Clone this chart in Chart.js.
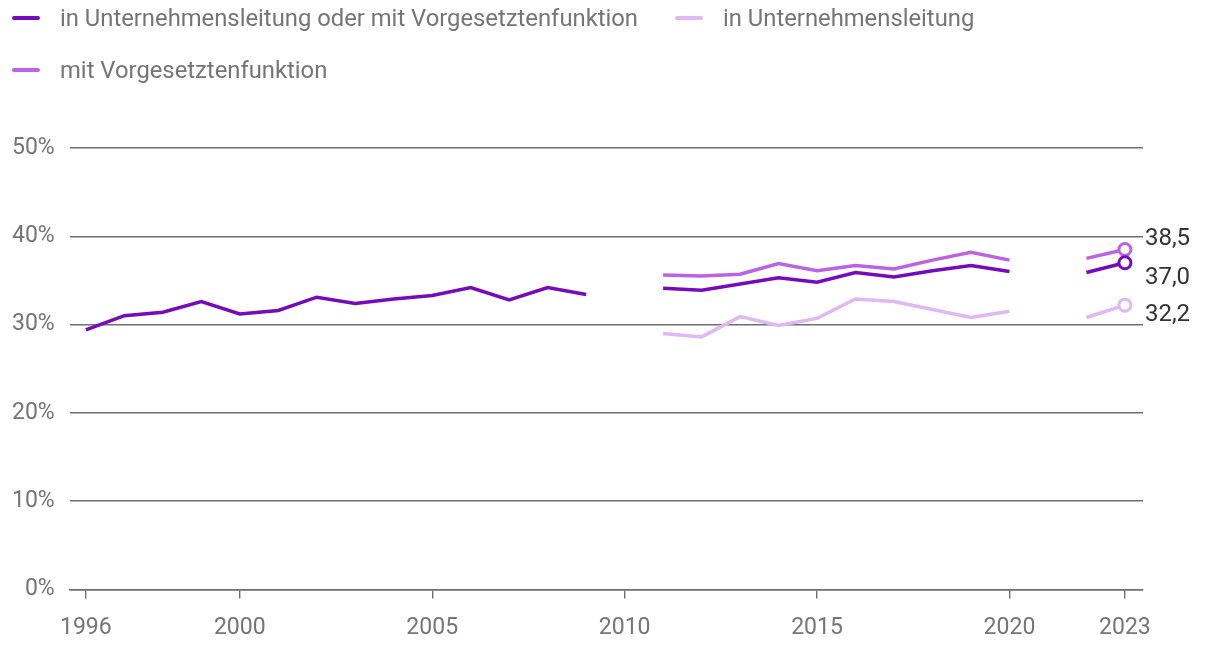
<!DOCTYPE html>
<html>
<head>
<meta charset="utf-8">
<script src="https://cdn.jsdelivr.net/npm/chart.js@4.4.1/dist/chart.umd.min.js"></script>
<style>
  body { margin: 0; background: #fff; font-family: Roboto, sans-serif; }
  #wrap { position: relative; width: 1220px; height: 650px; }
  #legend {
    position: absolute; left: 12px; top: 4px; width: 1100px;
    display: flex; flex-wrap: wrap; column-gap: 37px; row-gap: 24px;
  }
  .item { display: flex; align-items: center; height: 28px; font-size: 23.8px; color: #757575; }
  .swatch { width: 28px; height: 4px; border-radius: 2px; margin-right: 20px; }
  canvas { position: absolute; left: 0; top: 0; }
</style>
</head>
<body>
<div id="wrap">
  <canvas id="chart" width="1220" height="650"></canvas>
  <div id="legend"></div>
</div>
<script>
const years = [];
for (let y = 1996; y <= 2023; y++) years.push(y);

// 1996 ... 2023 (2010 und 2021 fehlen)
const leitungOderVorgesetzt = [29.4, 31.0, 31.4, 32.6, 31.2, 31.6, 33.1, 32.4, 32.9, 33.3, 34.2, 32.8, 34.2, 33.4,
  null, 34.1, 33.9, 34.6, 35.3, 34.8, 35.9, 35.4, 36.1, 36.7, 36.0, null, 35.9, 37.0];
const leitung = [null, null, null, null, null, null, null, null, null, null, null, null, null, null,
  null, 29.0, 28.6, 30.9, 29.9, 30.7, 32.9, 32.6, 31.7, 30.8, 31.5, null, 30.8, 32.2];
const vorgesetzt = [null, null, null, null, null, null, null, null, null, null, null, null, null, null,
  null, 35.6, 35.5, 35.7, 36.9, 36.1, 36.7, 36.3, 37.3, 38.2, 37.3, null, 37.5, 38.5];

const xTicks = [1996, 2000, 2005, 2010, 2015, 2020, 2023];
const labelOffsets = [15, 10, -11]; // Abstand der Endwert-Beschriftung

const colors = ["#760bbd", "#dfb8f4", "#bb62e5"];
const names = ["in Unternehmensleitung oder mit Vorgesetztenfunktion", "in Unternehmensleitung", "mit Vorgesetztenfunktion"];
const series = [leitungOderVorgesetzt, leitung, vorgesetzt];

const datasets = series.map((vals, i) => ({
  label: names[i],
  data: vals.map((v, j) => ({ x: years[j], y: v })),
  borderColor: colors[i],
  backgroundColor: "#fff",
  borderWidth: 3.5,
  spanGaps: false,
  tension: 0,
  pointRadius: (ctx) => (ctx.dataIndex === years.length - 1 ? 6 : 0),
  pointBorderWidth: 3,
  pointBorderColor: colors[i],
  pointBackgroundColor: "#fff",
}));

// Legende
const legend = document.getElementById("legend");
names.forEach((n, i) => {
  const item = document.createElement("div");
  item.className = "item";
  const sw = document.createElement("span");
  sw.className = "swatch";
  sw.style.backgroundColor = colors[i];
  item.appendChild(sw);
  const t = document.createElement("span");
  t.textContent = n;
  item.appendChild(t);
  legend.appendChild(item);
});

// Endwerte rechts beschriften
const endLabels = {
  id: "endLabels",
  afterDatasetsDraw(chart) {
    const ctx = chart.ctx;
    ctx.save();
    ctx.font = "24px Roboto";
    ctx.fillStyle = "#333";
    ctx.textBaseline = "middle";
    ctx.textAlign = "left";
    chart.data.datasets.forEach((ds, i) => {
      const meta = chart.getDatasetMeta(i);
      const last = meta.data[meta.data.length - 1];
      const v = ds.data[ds.data.length - 1].y;
      ctx.fillText(v.toFixed(1).replace(".", ","), last.x + 20, last.y + labelOffsets[i]);
    });
    ctx.restore();
  },
};

new Chart(document.getElementById("chart"), {
  type: "line",
  data: { datasets },
  plugins: [endLabels],
  options: {
    responsive: false,
    animation: false,
    layout: { padding: { left: -3, right: 77, top: 148, bottom: -8 } },
    plugins: { legend: { display: false }, tooltip: { enabled: false } },
    scales: {
      x: {
        type: "linear",
        min: 1995.58,
        max: 2023.47,
        afterBuildTicks: (axis) => { axis.ticks = xTicks.map((v) => ({ value: v })); },
        grid: { drawOnChartArea: false, drawTicks: true, tickLength: 9, color: "#707070", lineWidth: 1.4 },
        border: { display: true, color: "#707070", width: 1.5 },
        ticks: { color: "#757575", font: { family: "Roboto", size: 23 }, padding: 16, maxRotation: 0, callback: (v) => String(v) },
      },
      y: {
        min: 0,
        max: 50,
        ticks: { stepSize: 10, color: "#757575", font: { family: "Roboto", size: 23 }, padding: 15, callback: (v) => v + "%" },
        grid: { color: "#707070", lineWidth: 1.4, drawTicks: false },
        border: { display: false },
      },
    },
  },
});
</script>
</body>
</html>
